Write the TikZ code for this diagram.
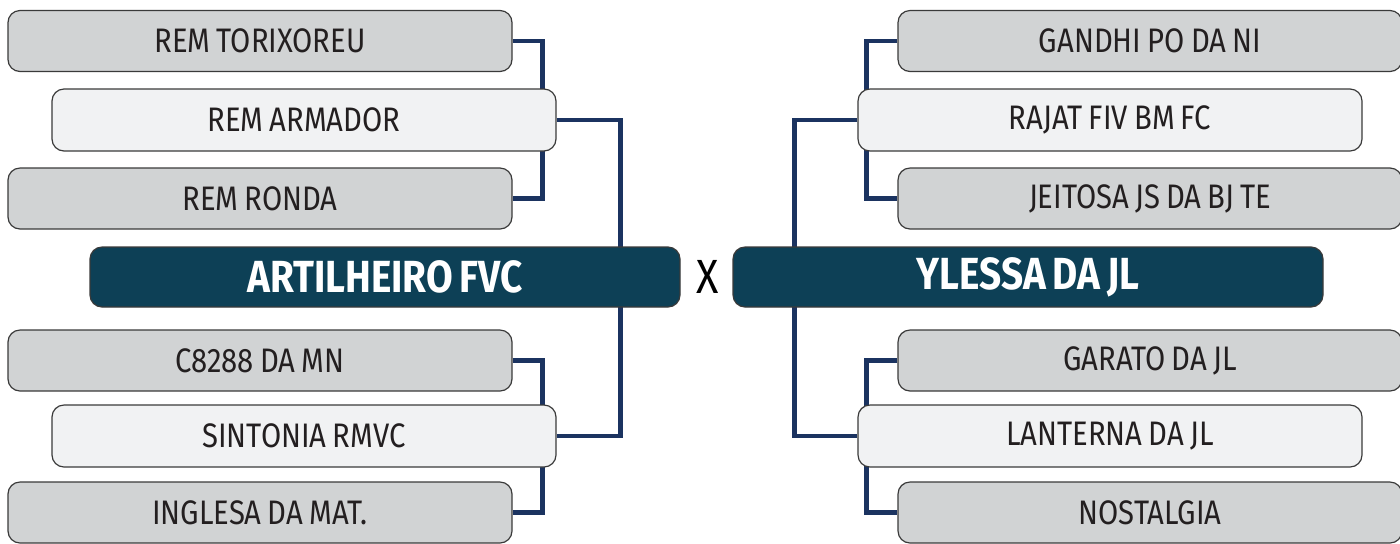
\documentclass[tikz,border=0pt]{standalone}
\usepackage{fontspec}
\setmainfont{Fira Sans}
\newfontfamily\teamfont[FakeStretch=0.86, WordSpace=0.8]{Fira Sans}
\newfontfamily\teamboldfont[FakeStretch=0.86, WordSpace=0.75]{Fira Sans Bold}
\usetikzlibrary{backgrounds}
\definecolor{graybox}{HTML}{D1D3D4}
\definecolor{lightbox}{HTML}{F1F2F3}
\definecolor{darkbox}{HTML}{0D4056}
\definecolor{bordercol}{HTML}{3A3A3A}
\definecolor{linkcol}{HTML}{1B3360}
\definecolor{txtcol}{HTML}{231F20}
\tikzset{
  basebox/.style={draw=bordercol, line width=0.6pt, rounded corners=6pt, inner sep=0pt, text=txtcol, font=\teamfont\fontsize{17}{19}\selectfont},
  graybx/.style={basebox, fill=graybox, minimum width=252pt, minimum height=30.5pt},
  lightbx/.style={basebox, fill=lightbox, minimum width=252pt, minimum height=31pt},
  darkbx/.style={basebox, fill=darkbox, text=white, minimum width=295pt, minimum height=30pt, font=\teamboldfont\fontsize{22.5}{24}\selectfont},
  link/.style={draw=linkcol, line width=2.4pt}
}
\begin{document}
\begin{tikzpicture}[x=0.5pt,y=-0.5pt]
\useasboundingbox (0,0) rectangle (1400,543);
% left side
\node[graybx] (l1) at (260,41) {REM TORIXOREU};
\node[lightbx] (l2) at (304,120) {REM ARMADOR};
\node[graybx] (l3) at (260,198.5) {REM RONDA};
\node[darkbx] (lf) at (385,277) {ARTILHEIRO FVC};
\node[graybx] (l4) at (260,360.5) {C8288 DA MN};
\node[lightbx] (l5) at (304,436) {SINTONIA RMVC};
\node[graybx] (l6) at (260,512.5) {INGLESA DA MAT.};
% right side
\node[graybx] (r1) at (1150,41) {GANDHI PO DA NI};
\node[lightbx] (r2) at (1110,120) {RAJAT FIV BM FC};
\node[graybx] (r3) at (1150,198.5) {JEITOSA JS DA BJ TE};
\node[darkbx] (rf) at (1028,277) {YLESSA DA JL};
\node[graybx] (r4) at (1150,360.5) {GARATO DA JL};
\node[lightbx] (r5) at (1110,436) {LANTERNA DA JL};
\node[graybx] (r6) at (1150,512.5) {NOSTALGIA};
\node[font=\teamfont\fontsize{24}{26}\selectfont, text=black] (vs) at (708,277) {X};
\begin{pgfonlayer}{background}
\draw[link] (l1.east) -- ++(30,0) |- (l3.east);
\draw[link] (l2.east) -- ++(64,0) |- (l5.east);
\draw[link] (l4.east) -- ++(30,0) |- (l6.east);
\draw[link] (r1.west) -- ++(-31,0) |- (r3.west);
\draw[link] (r2.west) -- ++(-63,0) |- (r5.west);
\draw[link] (r4.west) -- ++(-31,0) |- (r6.west);
\end{pgfonlayer}
\end{tikzpicture}
\end{document}
